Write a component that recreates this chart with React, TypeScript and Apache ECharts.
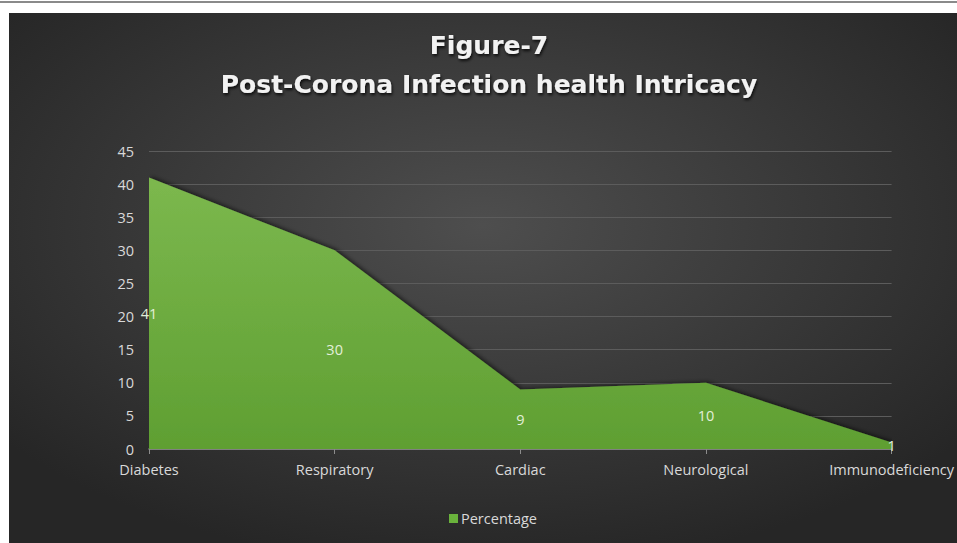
import React, { useEffect, useRef } from "react";
import * as echarts from "echarts";

const categories = ["Diabetes", "Respiratory", "Cardiac", "Neurological", "Immunodeficiency"];
const percentage = [41, 30, 9, 10, 1];
const yTicks = { min: 0, max: 45, interval: 5 };
const titleLines = ["Figure-7", "Post-Corona Infection health Intricacy"];
const seriesName = "Percentage";

export default function App() {
  const ref = useRef<HTMLDivElement>(null);
  useEffect(() => {
    document.body.style.margin = "0";
    const chart = echarts.init(ref.current!, null, { renderer: "svg" });
    const font = "'Open Sans', 'Noto Sans', sans-serif";
    const titleFont = "'DejaVu Sans', 'Open Sans', sans-serif";
    chart.setOption({
      animation: false,
      graphic: [
        { type: "rect", z: -10, shape: { x: 0, y: 0, width: 957, height: 543 }, style: { fill: "#ffffff" }, silent: true },
        { type: "rect", z: -9, shape: { x: 0, y: 1, width: 957, height: 2 }, style: { fill: "#8a8a8a" }, silent: true },
        {
          type: "rect", z: -8, shape: { x: 9, y: 13, width: 948, height: 530 }, silent: true,
          style: {
            fill: new echarts.graphic.RadialGradient(0.5, 0.4, 0.65, [
              { offset: 0, color: "#4e4e4e" },
              { offset: 1, color: "#262626" },
            ]),
          },
        },
        {
          type: "text", x: 489, y: 26, z: 10,
          style: {
            text: titleLines.join("\n"), textAlign: "center", fill: "#f2f2f2",
            font: `bold 25px ${titleFont}`, lineHeight: 39,
            textShadowColor: "rgba(0,0,0,0.8)", textShadowBlur: 3, textShadowOffsetX: 1, textShadowOffsetY: 2,
          },
        },
      ],
      legend: {
        bottom: 12, left: 444, itemWidth: 9, itemHeight: 9, itemGap: 4,
        icon: "rect",
        textStyle: { color: "#d9d9d9", fontSize: 14.5, fontFamily: font, padding: [0, 0, 0, -2] },
        data: [{ name: seriesName, itemStyle: { color: "#6ab23c" } }],
      },
      grid: { left: 149, right: 64, top: 151, bottom: 94 },
      xAxis: {
        type: "category", data: categories, boundaryGap: false,
        axisLine: { lineStyle: { color: "#8c8c8c", width: 1.5 } },
        axisTick: { show: true, alignWithLabel: true, length: 5, lineStyle: { color: "#8c8c8c" } },
        axisLabel: { color: "#d9d9d9", fontSize: 14.5, fontFamily: font, margin: 13 },
        splitLine: { show: false },
      },
      yAxis: {
        type: "value", min: yTicks.min, max: yTicks.max, interval: yTicks.interval,
        axisLine: { show: false }, axisTick: { show: false },
        axisLabel: { color: "#d9d9d9", fontSize: 14.5, fontFamily: font, margin: 15 },
        splitLine: { lineStyle: { color: "#5c5c5c", width: 1 } },
      },
      series: [
        {
          name: seriesName, type: "line", data: percentage, symbol: "none",
          lineStyle: { width: 0 },
          itemStyle: { color: "#6ab23c" },
          areaStyle: {
            opacity: 1,
            color: new echarts.graphic.LinearGradient(0, 0, 0, 1, [
              { offset: 0, color: "#7cb84e" },
              { offset: 1, color: "#5f9f32" },
            ]),
            shadowColor: "rgba(0,0,0,0.55)", shadowBlur: 4, shadowOffsetX: 2, shadowOffsetY: -1,
          },
        },
        {
          name: "labels", type: "line", data: percentage.map((v) => v / 2),
          symbol: "circle", symbolSize: 2, showSymbol: true, showAllSymbol: true,
          itemStyle: { color: "rgba(0,0,0,0)" },
          lineStyle: { width: 0, color: "rgba(0,0,0,0)" }, silent: true, legendHoverLink: false,
          label: {
            show: true, position: "inside", color: "#e2efd9", fontSize: 14.5, fontFamily: font,
            formatter: (p: any) => String(percentage[p.dataIndex]),
          },
          labelLayout: { hideOverlap: false },
          z: 5,
        },
      ],
    });
    return () => chart.dispose();
  }, []);
  return <div ref={ref} style={{ width: 957, height: 543 }} />;
}
